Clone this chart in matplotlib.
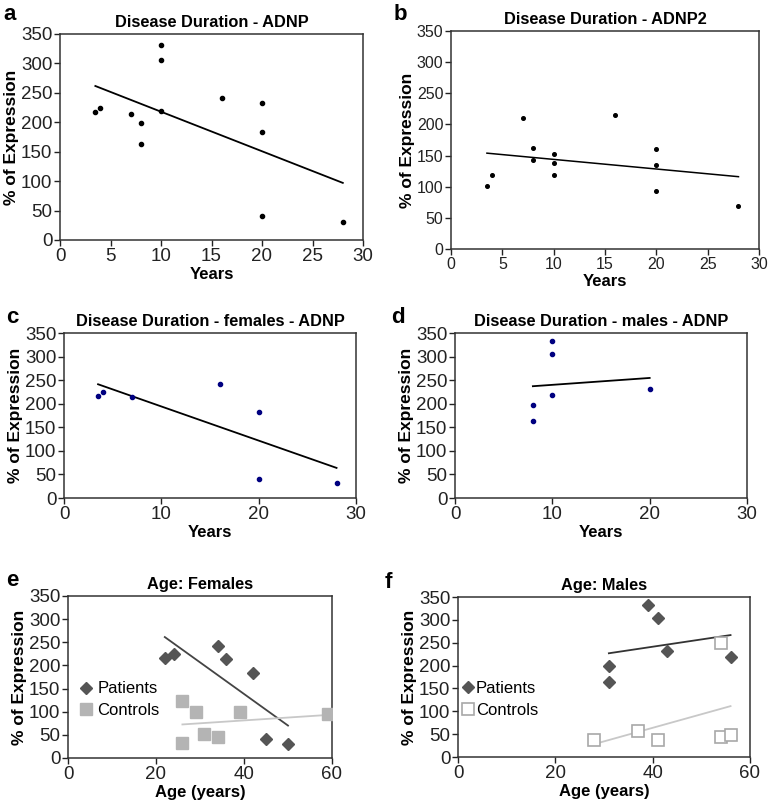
import matplotlib
matplotlib.use("Agg")
import matplotlib.pyplot as plt
import numpy as np

plt.rcParams['font.family'] = ['Liberation Sans', 'DejaVu Sans']

# a / b: disease duration, all patients
dur_all = [3.5, 4, 7, 8, 8, 10, 10, 10, 16, 20, 20, 20, 28]
adnp_all = [217, 225, 214, 198, 163, 332, 305, 219, 242, 232, 183, 41, 31]
adnp2_all = [101, 119, 211, 162, 143, 152, 138, 119, 215, 160, 135, 93, 69]

# c / d: disease duration by sex
dur_f = [3.5, 4, 7, 16, 20, 20, 28]
adnp_f = [217, 225, 214, 242, 183, 41, 31]
dur_m = [8, 8, 10, 10, 10, 20]
adnp_m = [198, 163, 332, 305, 219, 232]

# e / f: age
age_f_pat = [22, 24, 34, 36, 42, 45, 50]
expr_f_pat = [217, 225, 242, 214, 183, 41, 31]
age_f_ctl = [26, 29, 39, 59, 31, 34, 26]
expr_f_ctl = [124, 100, 99, 95, 51, 45, 32]
age_m_pat = [31, 31, 39, 41, 43, 56]
expr_m_pat = [198, 163, 332, 305, 232, 219]
age_m_ctl = [28, 37, 41, 54, 54, 56]
expr_m_ctl = [37, 57, 37, 249, 43, 49]

W, H = 769, 809
fig = plt.figure(figsize=(W / 100, H / 100), dpi=100)


def add_ax(l, t, r, b):
    return fig.add_axes([l / W, 1 - b / H, (r - l) / W, (b - t) / H])


def trend(ax, x, y, color="black", lw=1.3):
    x = np.asarray(x, float)
    k, c = np.polyfit(x, y, 1)
    xs = np.array([x.min(), x.max()])
    ax.plot(xs, k * xs + c, color=color, lw=lw, zorder=2)


def style(ax, title, xlabel, xmax, xstep, tsize=13.5):
    ax.set_xlim(0, xmax)
    ax.set_ylim(0, 350)
    ax.set_xticks(np.arange(0, xmax + 1, xstep))
    ax.set_yticks(np.arange(0, 351, 50))
    ax.tick_params(direction="out", length=4, width=1, labelsize=tsize, pad=1.5,
                   colors="#222222")
    for s in ax.spines.values():
        s.set_color("#333333")
        s.set_linewidth(1.1)
    ax.set_title(title, fontsize=11.8, fontweight="bold", pad=5)
    ax.set_xlabel(xlabel, fontsize=12, fontweight="bold", labelpad=2)
    ax.set_ylabel("% of Expression", fontsize=12.5, fontweight="bold", labelpad=1)


# a
ax = add_ax(60, 34, 363, 240)
ax.plot(dur_all, adnp_all, "o", color="black", ms=3, zorder=3)
trend(ax, dur_all, adnp_all)
style(ax, "Disease Duration - ADNP", "Years", 30, 5)

# b
ax = add_ax(451, 31, 759, 249)
ax.plot(dur_all, adnp2_all, "o", color="black", ms=2.6, zorder=3)
trend(ax, dur_all, adnp2_all, lw=1.1)
style(ax, "Disease Duration - ADNP2", "Years", 30, 5, tsize=11.5)

# c
ax = add_ax(64, 333, 356, 498)
ax.plot(dur_f, adnp_f, "o", color="#000080", ms=3, zorder=3)
trend(ax, dur_f, adnp_f)
style(ax, "Disease Duration - females - ADNP", "Years", 30, 10)

# d
ax = add_ax(455, 333, 747, 498)
ax.plot(dur_m, adnp_m, "o", color="#000080", ms=3, zorder=3)
trend(ax, dur_m, adnp_m)
style(ax, "Disease Duration - males - ADNP", "Years", 30, 10)

# e
ax = add_ax(68, 596, 332, 758)
ax.plot(age_f_pat, expr_f_pat, "D", color="#555555", ms=6, label="Patients", zorder=3)
ax.plot(age_f_ctl, expr_f_ctl, "s", color="#b4b4b4", ms=8, label="Controls", zorder=3)
trend(ax, age_f_pat, expr_f_pat, color="#444444")
trend(ax, age_f_ctl, expr_f_ctl, color="#c8c8c8")
style(ax, "Age: Females", "Age (years)", 60, 20)
ax.legend(loc="center left", bbox_to_anchor=(0.0, 0.36), frameon=False,
          fontsize=12, handletextpad=0.05, labelspacing=0.4, borderpad=0,
          handlelength=1.2)

# f
ax = add_ax(458, 597, 750, 757)
ax.plot(age_m_pat, expr_m_pat, "D", color="#555555", ms=6, label="Patients", zorder=3)
ax.plot(age_m_ctl, expr_m_ctl, "s", mfc="white", mec="#a8a8a8", mew=1.2, ms=8,
        label="Controls", zorder=3)
trend(ax, age_m_pat, expr_m_pat, color="#333333")
trend(ax, age_m_ctl, expr_m_ctl, color="#c8c8c8")
style(ax, "Age: Males", "Age (years)", 60, 20)
ax.legend(loc="center left", bbox_to_anchor=(-0.03, 0.36), frameon=False,
          fontsize=12, handletextpad=-0.1, labelspacing=0.4, borderpad=0,
          handlelength=1.2)

# panel letters
for lab, x, y in [("a", 10, 14), ("b", 400, 14), ("c", 12, 318),
                  ("d", 398, 318), ("e", 12, 580), ("f", 388, 582)]:
    fig.text(x / W, 1 - y / H, lab, fontsize=16, fontweight="bold",
             ha="center", va="center")

fig.savefig("out.png", dpi=100)
